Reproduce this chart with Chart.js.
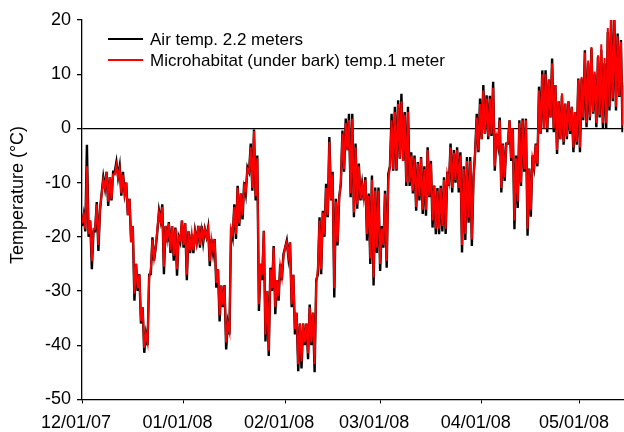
<!DOCTYPE html>
<html>
<head>
<meta charset="utf-8">
<script src="https://cdn.jsdelivr.net/npm/chart.js@4.4.1/dist/chart.umd.min.js"></script>
<style>
  html, body { margin: 0; padding: 0; background: #fff; }
</style>
</head>
<body>
<canvas id="tempChart" width="624" height="432"></canvas>
<script>
// days since 12/01/07 where each month starts
const monthStarts = [0, 31, 62, 91, 122, 152];
const monthLabels = ["12/01/07", "01/01/08", "02/01/08", "03/01/08", "04/01/08", "05/01/08"];
const seriesNames = ["Air temp. 2.2 meters", "Microhabitat (under bark) temp.1 meter"];

// two readings per day (night low, afternoon high), starting 12/01/07
const airTemp = [
  -18, -16, -19, -3, -20, -17, -26, -19, -19, -13.6, -22.6, -15, -12, -9, -11, -8, -14.3, -9, -13.3, -8,
  -8, -6.2, -9, -7, -12.4, -8, -12, -10, -16, -13, -21, -18, -31.8, -25, -30, -26.9, -36, -33, -41.4, -38,
  -40, -27, -26.9, -20.1, -24.4, -22, -19, -15.2, -17, -14, -26.9, -18, -21, -17.3, -23, -18, -24.4, -18.3, -27.2, -20,
  -21, -17,
  -22, -17.5, -28, -19, -23, -19.5, -23, -19, -21, -18, -22, -18, -21, -18.6, -20, -18.3, -25.4, -20.4,
  -23, -20.4, -29.4, -26, -35.6, -29, -33, -28.9, -40.8, -36, -38, -18.3, -20, -14, -20.4, -10.6, -18, -12, -16.8, -9.9,
  -12, -7.2, -8, -2.8, -11.5, -0.2, -13.3, -5, -33.7, -25, -28, -18.9, -39.3, -30, -42, -25.7, -30, -21.7, -34.3, -28,
  -31.8, -25, -28, -23.2,
  -22, -20.7, -23.8, -21, -33, -27, -38, -34, -44.8, -36, -44.3, -36, -40, -36, -42.6, -32.5,
  -40, -34, -45, -28, -26.9, -16.4, -26.9, -15.2, -20, -10.2, -16.4, -1.6, -13.3, -8, -31.2, -13, -21.6, -12.7, -10.3, -0.4,
  -8, 1.8, -4, 2.7, -12.7, 2.7, -16.4, -2.8, -14.8, -6.5, -13.3, -10.3, -13.3, -9, -20.7, -12, -25, -8.7, -29, -10.9,
  -23, -10.9,
  -26.3, -18, -22, -11.5, -25.7, -8.4, -7, 2.7, -7.8, 4, -7.8, 5.2, -5.6, 6.4, -6, 3, -10.6, 4,
  -10.6, -4.4, -12, -5, -15.2, -6.2, -13.3, -5.3, -15.8, -7, -16.1, -3.5, -12.7, -6, -18.3, -10.6, -19.5, -11, -19.5, -10.6,
  -19, -9, -19.5, -8, -10.6, -2.8, -11.8, -4, -10, -3.5, -11.8, -4.4, -22.9, -7, -20.6, -5.3, -17.4, -5.3, -21.7, -9,
  -4.4, 2.7, -4.4, 5.5,
  -2, 8, -1, 6.1, -2, 6, -1.4, 8.6, -7.8, -1, -3.1, 2, -11.8, -2.8, -9.7, -2.8,
  -2.8, 1.5, -6, 0, -18.6, -5, -14.7, 1.5, -10.6, 1.8, -8, 1.8, -19.8, -7.4, -16.3, -5, -7.1, -2.8, -7, 7.7,
  -1, 10.7, 0, 10.7, -0.7, 9, 2, 12.9, -0.7, 8, -4.7, 5, -2, 6, -3, 4.6, -2, 5, -1, 4,
  -4.4, 3, -3, 9.2,
  -4.4, 9.2, 1.5, 14.4, 0.2, 12, 1.5, 14.8, 2.7, 10, 0.2, 13.2, 2, 14.5, 0, 12,
  0, 17.8, 3.3, 20.3, 5, 20, 3.3, 17.5, 5.8, 16.3, -0.7, 8
];

const barkTemp = [
  -17.5, -16, -18.5, -7, -19.5, -17, -24.5, -18.5, -18.5, -14, -21.5, -15, -12, -9.5, -11, -8, -13.5, -9, -13, -8.5,
  -8.5, -6.8, -9, -7.5, -12, -8.5, -12, -10, -16, -13, -21, -18, -30.5, -25, -29.5, -27, -35.5, -33, -40.5, -38,
  -39.5, -27.5, -26, -20.5, -24, -22, -18.5, -15.5, -17, -14.5, -25.5, -18, -20.5, -17.5, -22.5, -18, -23.5, -18.5, -26, -20,
  -20.5, -17,
  -21.5, -17.5, -27, -19, -22.5, -19.5, -22.5, -19, -21, -18, -21.5, -18.5, -20.5, -18.6, -20, -18.5, -24.5, -20.5,
  -22.5, -20.5, -28.5, -26, -34.5, -29, -32.5, -29, -39.5, -36, -37.5, -18.5, -19.5, -14.5, -19.5, -11, -17.5, -12, -16, -10.5,
  -11.5, -7.5, -8, -3.5, -11, -0.5, -12.5, -5.5, -32.5, -25, -27, -19, -38, -30, -41, -26, -29.5, -22, -33, -28,
  -31, -25.5, -27.5, -23.5,
  -22, -21, -23.5, -21, -32.5, -27, -37, -34, -43.5, -36, -43, -36, -39.5, -36, -41.5, -33,
  -39.5, -34, -43.5, -28.5, -26, -17, -26, -15.5, -19.5, -11, -16, -2.5, -13, -8.5, -29.5, -13.5, -21, -13, -10, -1,
  -7.5, 1, -4, 1.5, -12, 1.8, -15.5, -3.5, -14, -7, -13, -10.5, -13, -9.5, -19.5, -12.5, -24, -9.5, -27.5, -11.5,
  -22, -11.5,
  -25, -18.5, -21.5, -12, -24.5, -9.5, -7, 1.5, -7.5, 3, -7.5, 4.5, -5.5, 5, -6, 2.5, -10, 3,
  -10, -5, -11.5, -5.5, -14.5, -6.5, -12.5, -5.5, -15, -7.5, -15, -4, -12.5, -6.5, -17, -10.5, -18.5, -11.5, -18.5, -11,
  -18, -9.5, -18.5, -8.5, -10, -3.5, -11, -4.5, -9.5, -4, -11, -5, -21.5, -7.5, -19.5, -6, -16.5, -6, -20.5, -9.5,
  -4.5, 2, -4, 4.5,
  -2, 7, -1, 5.5, -1.5, 5.5, -1, 7.5, -7, -1.5, -3, 1.5, -11, -3, -9, -3,
  -2.5, 1.5, -5.5, 0, -17, -5.5, -13.5, 1, -10, 1.5, -7.5, 1.5, -18.5, -7.5, -15, -5.5, -7, -3, -6.5, 7,
  -1, 10, 0, 10, 0, 9, 2, 12, 0, 8, -4, 5, -2, 6.5, -2.5, 4.5, -1.5, 5, -0.5, 4,
  -3.5, 3, -2.5, 9,
  -3.5, 9.5, 2, 14, 1, 12.5, 2, 15, 3, 10.5, 1, 13.5, 2.5, 15.5, 1, 13,
  1, 18.5, 4, 20, 5.5, 20, 4, 17, 6, 16, 0.5, 8.5
];

const days = airTemp.map((_, i) => i / 2);
const fontFamily = '"Liberation Sans", Arial, Helvetica, sans-serif';

// legend lines and rotated axis title placed like the original figure
const figureText = {
  id: "figureText",
  afterDraw(chart) {
    const { ctx, chartArea } = chart;
    ctx.save();
    ctx.font = "17px " + fontFamily;
    ctx.textBaseline = "middle";
    chart.data.datasets.forEach((ds, i) => {
      const x = chartArea.left + 26;
      const y = chartArea.top + 19 + i * 21;
      ctx.strokeStyle = ds.borderColor;
      ctx.lineWidth = 2;
      ctx.beginPath();
      ctx.moveTo(x, y);
      ctx.lineTo(x + 35, y);
      ctx.stroke();
      ctx.fillStyle = "#000";
      ctx.fillText(ds.label, x + 42, y + 1);
    });
    ctx.translate(18, 195);
    ctx.rotate(-Math.PI / 2);
    ctx.textAlign = "center";
    ctx.font = "18px " + fontFamily;
    ctx.fillText("Temperature (°C)", 0, 0);
    ctx.restore();
  },
};

new Chart(document.getElementById("tempChart"), {
  type: "line",
  data: {
    labels: days,
    datasets: [
      {
        label: seriesNames[0],
        data: airTemp.map((v, i) => ({ x: days[i], y: v })),
        borderColor: "#000000",
        borderWidth: 2.4,
        pointRadius: 0,
        tension: 0,
        order: 1,
      },
      {
        label: seriesNames[1],
        data: barkTemp.map((v, i) => ({ x: days[i], y: v })),
        borderColor: "#ff0000",
        borderWidth: 2,
        pointRadius: 0,
        tension: 0,
        order: 0,
      },
    ],
  },
  options: {
    responsive: false,
    animation: false,
    layout: { padding: { left: 39, top: 20, right: 0, bottom: -11 } },
    plugins: {
      legend: { display: false },
      tooltip: { enabled: false },
    },
    scales: {
      x: {
        type: "linear",
        min: 0,
        max: 165.2,
        afterBuildTicks: (scale) => {
          scale.ticks = monthStarts.map((v) => ({ value: v }));
        },
        ticks: {
          callback: (v) => monthLabels[monthStarts.indexOf(v)],
          autoSkip: false,
          maxRotation: 0,
          labelOffset: -6,
          padding: 9,
          color: "#000",
          font: { family: fontFamily, size: 18 },
        },
        grid: { drawOnChartArea: false, tickLength: 4, tickColor: "#000" },
        border: { color: "#000", width: 1.3 },
      },
      y: {
        min: -50,
        max: 20,
        ticks: {
          stepSize: 10,
          padding: 6,
          color: "#000",
          font: { family: fontFamily, size: 18 },
        },
        grid: {
          color: (c) => (c.tick && c.tick.value === 0 ? "#000" : "rgba(0,0,0,0)"),
          tickColor: "#000",
          tickLength: 5,
          lineWidth: 1.3,
        },
        border: { color: "#000", width: 1.3 },
      },
    },
  },
  plugins: [figureText],
});
</script>
</body>
</html>
